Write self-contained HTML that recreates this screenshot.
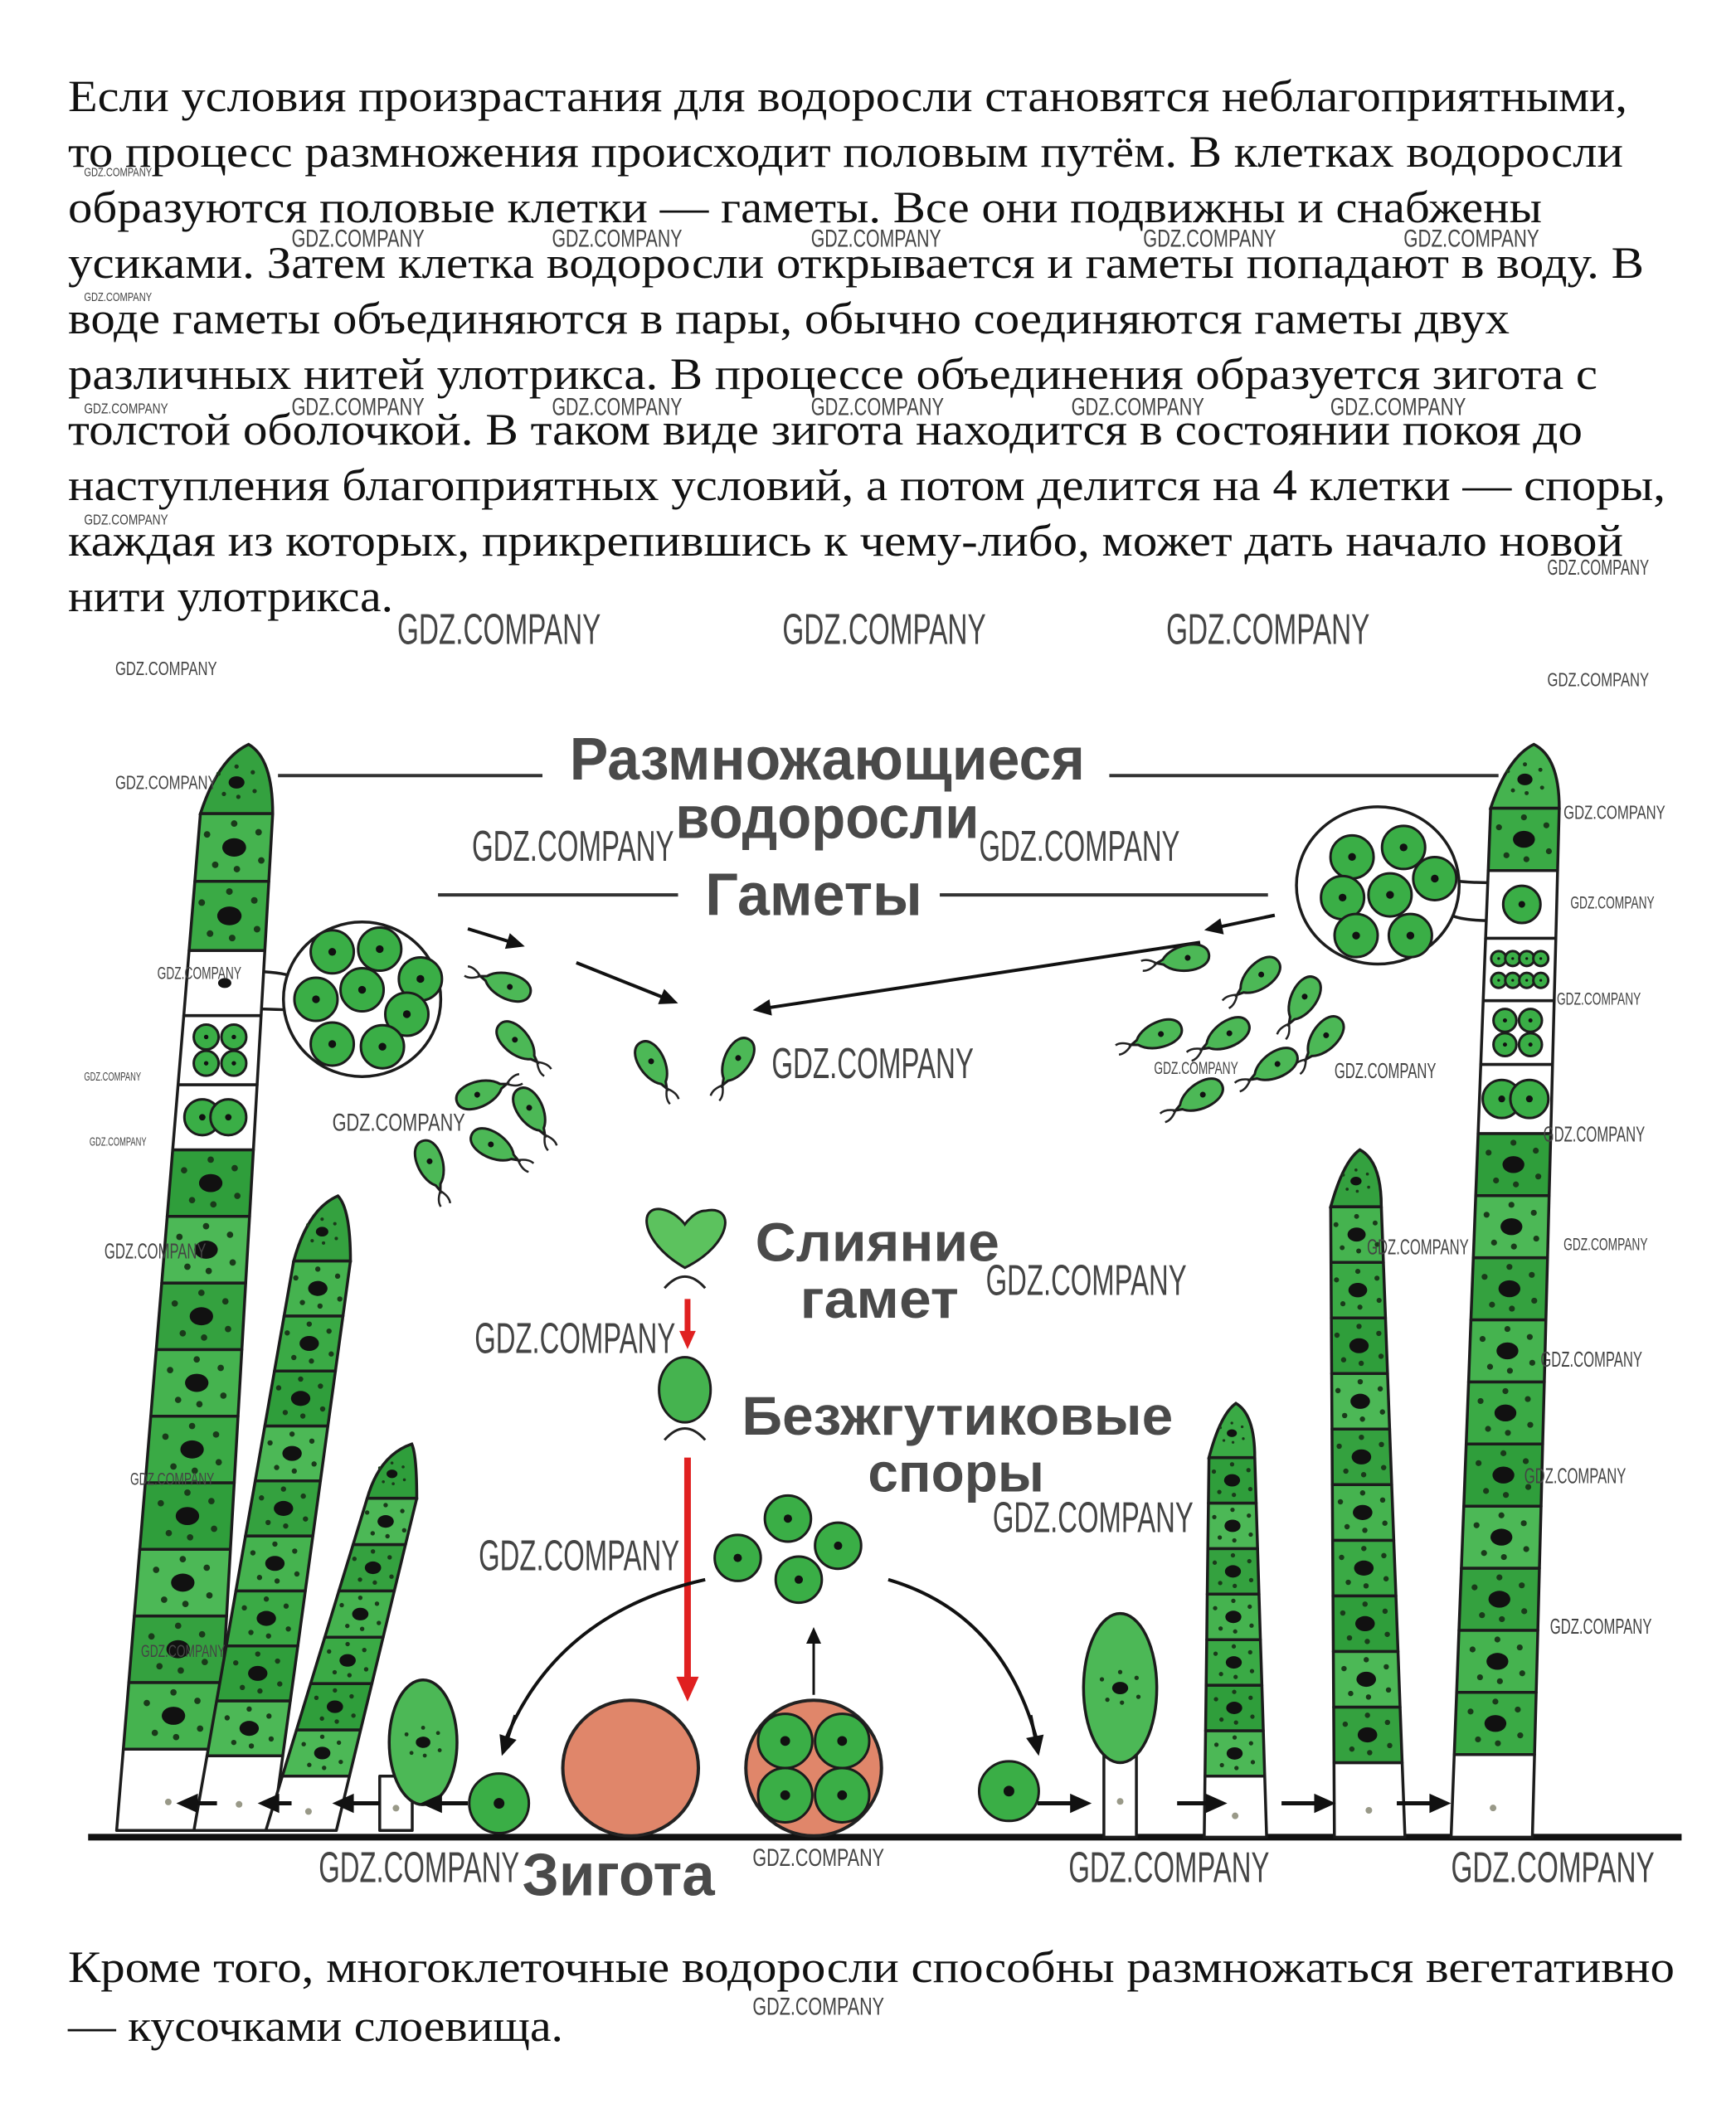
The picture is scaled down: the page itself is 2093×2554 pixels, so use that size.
<!DOCTYPE html>
<html><head><meta charset="utf-8"><style>
html,body{margin:0;padding:0;background:#fff;}
svg{display:block;}
.t{font-family:"Liberation Serif",serif;font-size:54px;fill:#111;}
.d{font-family:"Liberation Sans",sans-serif;font-weight:bold;fill:#4a4a4a;}
.w{font-family:"Liberation Sans",sans-serif;fill:#444;}
</style></head><body>
<svg id="s" width="2093" height="2554" viewBox="0 0 2093 2554" xmlns="http://www.w3.org/2000/svg">
<rect width="2093" height="2554" fill="#fff"/>
<g id="txt">
<text class="t" x="82" y="134" textLength="1880" lengthAdjust="spacingAndGlyphs">Если условия произрастания для водоросли становятся неблагоприятными,</text>
<text class="t" x="82" y="201" textLength="1875" lengthAdjust="spacingAndGlyphs">то процесс размножения происходит половым путём. В клетках водоросли</text>
<text class="t" x="82" y="268" textLength="1777" lengthAdjust="spacingAndGlyphs">образуются половые клетки — гаметы. Все они подвижны и снабжены</text>
<text class="t" x="82" y="335" textLength="1900" lengthAdjust="spacingAndGlyphs">усиками. Затем клетка водоросли открывается и гаметы попадают в воду. В</text>
<text class="t" x="82" y="402" textLength="1738" lengthAdjust="spacingAndGlyphs">воде гаметы объединяются в пары, обычно соединяются гаметы двух</text>
<text class="t" x="82" y="469" textLength="1844" lengthAdjust="spacingAndGlyphs">различных нитей улотрикса. В процессе объединения образуется зигота с</text>
<text class="t" x="82" y="536" textLength="1826" lengthAdjust="spacingAndGlyphs">толстой оболочкой. В таком виде зигота находится в состоянии покоя до</text>
<text class="t" x="82" y="603" textLength="1926" lengthAdjust="spacingAndGlyphs">наступления благоприятных условий, а потом делится на 4 клетки — споры,</text>
<text class="t" x="82" y="670" textLength="1875" lengthAdjust="spacingAndGlyphs">каждая из которых, прикрепившись к чему-либо, может дать начало новой</text>
<text class="t" x="82" y="737" textLength="392" lengthAdjust="spacingAndGlyphs">нити улотрикса.</text>
<text class="t" x="82" y="2390" textLength="1937" lengthAdjust="spacingAndGlyphs">Кроме того, многоклеточные водоросли способны размножаться вегетативно</text>
<text class="t" x="82" y="2461" textLength="597" lengthAdjust="spacingAndGlyphs">— кусочками слоевища.</text>
</g>
<g id="dia"></g>
<g id="wm"></g>
</svg>
<script>
var S=1.635,NS="http://www.w3.org/2000/svg",dia=document.getElementById('dia'),wm=document.getElementById('wm');
function el(p,tag,a,txt){var e=document.createElementNS(NS,tag);for(var k in a)e.setAttribute(k,a[k]);if(txt)e.textContent=txt;p.appendChild(e);return e;}
var G=['#3aaa45','#45b34f','#34a13f','#4cb856','#2f9e3b'];var gi=0;
function gc(){gi++;return G[gi%G.length];}
function dots(cx,cy,r){el(dia,'ellipse',{cx:cx,cy:cy,rx:r*0.22,ry:r*0.17,fill:'#111'});
 var o=[[-.5,-.3],[.45,-.35],[-.35,.4],[.5,.3],[0,-.55],[.05,.5]];o.forEach(function(d){el(dia,'circle',{cx:cx+d[0]*r,cy:cy+d[1]*r*0.8,r:r*0.06,fill:'#1a3a1a'});});}
function cell(xa,ya,wa,xb,yb,wb,type){
 var p=[[xa-wa/2,ya],[xa+wa/2,ya],[xb+wb/2,yb],[xb-wb/2,yb]].map(function(q){return (q[0]*S).toFixed(1)+','+(q[1]*S).toFixed(1);}).join(' ');
 var fill=type=='g'?gc():'#fff';
 el(dia,'polygon',{points:p,fill:fill,stroke:'#1c1c1c','stroke-width':3.5,'stroke-linejoin':'round'});
 var cx=(xa+xb)/2*S,cy=(ya+yb)/2*S,r=Math.min((wa+wb)/2,Math.abs(ya-yb))*S/2;
 if(type=='g')dots(cx,cy,r*1.6);
 if(type=='b')el(dia,'circle',{cx:cx,cy:cy+r*0.3,r:4,fill:'#998'});
 if(type=='n')el(dia,'ellipse',{cx:cx,cy:cy,rx:8,ry:6,fill:'#111'});
 if(type=='s1')spore(cx,cy,r*0.55);
 if(type=='s2'){spore(cx-r*0.4,cy,r*0.55);spore(cx+r*0.4,cy,r*0.55);}
 if(type=='s4'){[[-1,-1],[1,-1],[-1,1],[1,1]].forEach(function(d){spore(cx+d[0]*r*0.4,cy+d[1]*r*0.38,r*0.36);});}
 if(type=='s8'){for(var i=0;i<4;i++)for(var j=0;j<2;j++)spore(cx+(i-1.5)*r*0.45,cy+(j-0.5)*r*0.7,r*0.24);}
}
function spore(x,y,r){el(dia,'circle',{cx:x,cy:y,r:r,fill:'#3aae46',stroke:'#1c1c1c','stroke-width':3});el(dia,'circle',{cx:x,cy:y,r:r*0.18,fill:'#111'});}
function fil(x0,y0,x1,y1,w0,w1,bnds){
 function X(y){return x0+(x1-x0)*(y0-y)/(y0-y1);}function W(y){return w0+(w1-w0)*(y0-y)/(y0-y1);}
 for(var i=0;i<bnds.length-1;i++){var ya=bnds[i][0],yb=bnds[i+1][0],t=bnds[i][1];
  cell(X(ya),ya,W(ya),X(yb),yb,W(yb),t);}
 var yt=bnds[bnds.length-1][0];var xt=X(yt),wt=W(yt);
 var tipH=yt-y1;var d='M'+((xt-wt/2)*S)+','+(yt*S)+' Q'+((xt-wt/4)*S)+','+((y1+tipH*0.2)*S)+' '+(x1*S+wt*0.1*S)+','+(y1*S)+' Q'+((xt+wt/2)*S)+','+((y1+tipH*0.2)*S)+' '+((xt+wt/2)*S)+','+(yt*S)+' Z';
 el(dia,'path',{d:d,fill:gc(),stroke:'#1c1c1c','stroke-width':3.5});dots(xt*S,(yt-tipH*0.45)*S,wt*S*0.5);
}
function seq(a,b,n,t){var r=[];for(var i=0;i<n;i++)r.push([a+(b-a)*i/n,t]);return r;}
function sporang(cx,cy,rx,ry,nx,ny,pos){
 var sgn=nx>cx?1:-1;
 el(dia,'path',{d:'M'+(nx*S)+','+((ny-14)*S)+' Q'+((cx+sgn*rx*0.7)*S)+','+((ny-14)*S)+' '+((cx+sgn*rx*0.8)*S)+','+((cy-10)*S)+' L'+((cx+sgn*rx*0.8)*S)+','+((cy+10)*S)+' Q'+((cx+sgn*rx*0.7)*S)+','+((ny+14)*S)+' '+(nx*S)+','+((ny+14)*S)+' Z',fill:'#fff',stroke:'#1c1c1c','stroke-width':3.5});
 el(dia,'ellipse',{cx:cx*S,cy:cy*S,rx:rx*S,ry:ry*S,fill:'#fff',stroke:'#1c1c1c','stroke-width':3.5});
 pos.forEach(function(p){spore(p[0]*S,p[1]*S,26);});
}
el(dia,'line',{x1:65*S,y1:1355*S,x2:1240*S,y2:1355*S,stroke:'#111','stroke-width':8});
sporang(267,737,58,57,170,730,[[245,702],[280,700],[310,722],[233,737],[267,730],[300,748],[245,770],[282,772]]);
fil(122,1350,178,549,72,52,[[1350,'b']].concat(seq(1290,848,9,'g')).concat([[848,'s2'],[800,'s4'],[749,'n'],[701,'g'],[650,'g'],[600,'g']]));
fil(172,1350,245,882,58,40,[[1350,'b']].concat(seq(1295,930,9,'g')).concat([[930,'g']]));
fil(222,1350,300,1065,52,34,[[1350,'b']].concat(seq(1310,1105,6,'g')).concat([[1105,'g']]));
cell(292,1350,24,292,1310,24,'b');
el(dia,'ellipse',{cx:312*S,cy:1285*S,rx:25*S,ry:46*S,fill:'#4cb856',stroke:'#1c1c1c','stroke-width':3.5});dots(312*S,1285*S,40);
sporang(1016,653,60,58,1100,665,[[997,632],[1035,625],[1058,648],[990,662],[1025,660],[1000,690],[1040,690]]);
fil(1100,1355,1126,549,60,50,[[1355,'b']].concat(seq(1294,836,10,'g')).concat([[836,'s2'],[785,'s4'],[738,'s8'],[692,'s1'],[642,'g'],[596,'g']]));
fil(1010,1355,999,848,52,36,[[1355,'b']].concat(seq(1300,890,10,'g')).concat([[890,'g']]));
fil(911,1355,908,1035,46,32,[[1355,'b']].concat(seq(1310,1075,7,'g')).concat([[1075,'g']]));
cell(826,1355,24,826,1295,24,'b');
el(dia,'ellipse',{cx:826*S,cy:1245*S,rx:27*S,ry:55*S,fill:'#4cb856',stroke:'#1c1c1c','stroke-width':3.5});dots(826*S,1245*S,44);
spore(368*S,1330*S,22*S);spore(744*S,1321*S,22*S);
function arrow(x1,y1,x2,y2,col,w,h){col=col||'#111';w=w||4;h=h||22;
 var a=Math.atan2(y2-y1,x2-x1);el(dia,'line',{x1:x1,y1:y1,x2:x2-Math.cos(a)*h*0.8,y2:y2-Math.sin(a)*h*0.8,stroke:col,'stroke-width':w});
 var p=[[x2,y2],[x2-Math.cos(a)*h+Math.sin(a)*h*0.45,y2-Math.sin(a)*h-Math.cos(a)*h*0.45],[x2-Math.cos(a)*h-Math.sin(a)*h*0.45,y2-Math.sin(a)*h+Math.cos(a)*h*0.45]];
 el(dia,'polygon',{points:p.map(function(q){return q.join(',');}).join(' '),fill:col});}
function A(a,b,c,d,col,w,h){arrow(a*S,b*S,c*S,d*S,col,w,h);}
[[160,130],[215,190],[280,245],[345,310]].forEach(function(p){A(p[0],1330,p[1],1330,'#111',5,26);});
[[765,805],[868,905],[945,985],[1030,1070]].forEach(function(p){A(p[0],1330,p[1],1330,'#111',5,26);});
A(345,685,387,698);A(425,710,500,740);A(940,675,888,686);A(885,695,555,745);
A(507,958,507,995,'#e02020',7,22);A(507,1075,507,1255,'#e02020',8,30);A(600,1250,600,1200,'#111',3,20);
el(dia,'path',{d:'M'+520*S+','+1165*S+' Q'+410*S+','+1190*S+' '+372*S+','+1285*S,fill:'none',stroke:'#111','stroke-width':4});A(380,1265,370,1295,'#111',4,24);
el(dia,'path',{d:'M'+655*S+','+1165*S+' Q'+740*S+','+1190*S+' '+765*S+','+1285*S,fill:'none',stroke:'#111','stroke-width':4});A(760,1265,766,1295,'#111',4,24);
el(dia,'circle',{cx:465*S,cy:1304*S,r:50*S,fill:'#e0866a',stroke:'#222','stroke-width':4});
el(dia,'circle',{cx:600*S,cy:1304*S,r:50*S,fill:'#e0866a',stroke:'#222','stroke-width':4});
[[-1,-1],[1,-1],[-1,1],[1,1]].forEach(function(d){spore((600+d[0]*21)*S,(1304+d[1]*20)*S,20*S);});
[[544,1149],[581,1120],[618,1140],[589,1165]].forEach(function(p){spore(p[0]*S,p[1]*S,17*S);});
el(dia,'path',{d:'M'+505*S+','+935*S+' C'+470*S+','+915*S+' '+470*S+','+885*S+' '+492*S+','+893*S+' C'+500*S+','+896*S+' '+505*S+','+903*S+' '+505*S+','+903*S+' C'+505*S+','+903*S+' '+512*S+','+893*S+' '+520*S+','+893*S+' C'+543*S+','+888*S+' '+540*S+','+918*S+' '+505*S+','+935*S+' Z',fill:'#5cc25e',stroke:'#1c1c1c','stroke-width':3});
el(dia,'ellipse',{cx:505*S,cy:1025*S,rx:19*S,ry:24*S,fill:'#45b34f',stroke:'#1c1c1c','stroke-width':3});
[[505,938],[505,1050]].forEach(function(p){el(dia,'path',{d:'M'+(p[0]-15)*S+','+(p[1]+12)*S+' Q'+p[0]*S+','+(p[1]-5)*S+' '+(p[0]+15)*S+','+(p[1]+12)*S,fill:'none',stroke:'#222','stroke-width':3});});
function gam(x,y,ang){var g=el(dia,'g',{transform:'translate('+x+','+y+') rotate('+ang+')'});
 el(g,'path',{d:'M-32,0 C-32,-20 10,-20 24,-3 L32,0 L24,3 C10,20 -32,20 -32,0 Z',fill:'#4cb856',stroke:'#1c1c1c','stroke-width':3});
 el(g,'circle',{cx:-6,cy:0,r:3.5,fill:'#111'});
 el(g,'path',{d:'M32,0 Q42,-8 50,-6 M32,0 Q42,8 50,6',fill:'none',stroke:'#222','stroke-width':2.5});}
[[609,1188,200],[625,1258,45],[581,1318,-20],[641,1341,60],[597,1383,30],[520,1406,70],[788,1285,60],[887,1281,120]].forEach(function(p){gam(p[0],p[1],p[2]);});
[[1426,1156,170],[1516,1179,140],[1570,1207,120],[1394,1249,160],[1477,1249,150],[1595,1253,130],[1535,1286,150],[1445,1323,150]].forEach(function(p){gam(p[0],p[1],p[2]);});
var L=[['Размножающиеся',420,575,380,44],['водоросли',498,618,224,44],['Гаметы',520,675,160,44],['Слияние',557,930,180,40],['гамет',590,972,117,40],['Безжгутиковые',547,1058,318,40],['споры',640,1100,130,40],['Зигота',385,1398,142,44]];
L.forEach(function(l){el(dia,'text',{class:'d',x:l[1]*S,y:l[2]*S,'font-size':l[4]*S,textLength:l[3]*S,lengthAdjust:'spacingAndGlyphs'},l[0]);});
[[205,400,572],[818,1105,572],[323,500,660],[693,935,660]].forEach(function(l){el(dia,'line',{x1:l[0]*S,y1:l[2]*S,x2:l[1]*S,y2:l[2]*S,stroke:'#333','stroke-width':4});});
var W=[[293,475,150,32],[577,475,150,32],[860,475,150,32],[348,635,149,32],[722,635,148,32],[569,795,149,32],[727,955,148,32],[350,998,148,32],[732,1130,148,32],[353,1158,148,32],[235,1388,148,32],[788,1388,148,32],[1070,1388,150,32],
[215,182,98,18],[407,182,96,18],[598,182,96,18],[843,182,98,18],[1035,182,100,18],[215,306,98,18],[407,306,96,18],[598,306,98,18],[790,306,98,18],[981,306,100,18],
[1141,424,75,16],[85,498,75,14],[1141,506,75,14],[85,582,75,14],[1153,604,75,14],[1158,670,62,13],[1148,741,62,13],[116,722,62,13],[1138,842,75,16],[1153,922,62,13],[1136,1008,75,16],[1124,1094,75,16],[1143,1205,75,16],[245,834,98,18],[555,1376,97,18],[555,1486,97,18],[77,928,75,16],[851,792,62,13],[984,795,75,16],[1008,925,75,16],[62,305,62,11],[62,130,50,9],[62,222,50,9],[62,387,62,11],[62,797,42,9],[66,845,42,9],[96,1095,62,13],[104,1222,62,13]];
W.forEach(function(w){el(wm,'text',{class:'w',x:w[0]*S,y:w[1]*S,'font-size':w[3]*S,textLength:w[2]*S,lengthAdjust:'spacingAndGlyphs'},'GDZ.COMPANY');});
</script>
</body></html>
